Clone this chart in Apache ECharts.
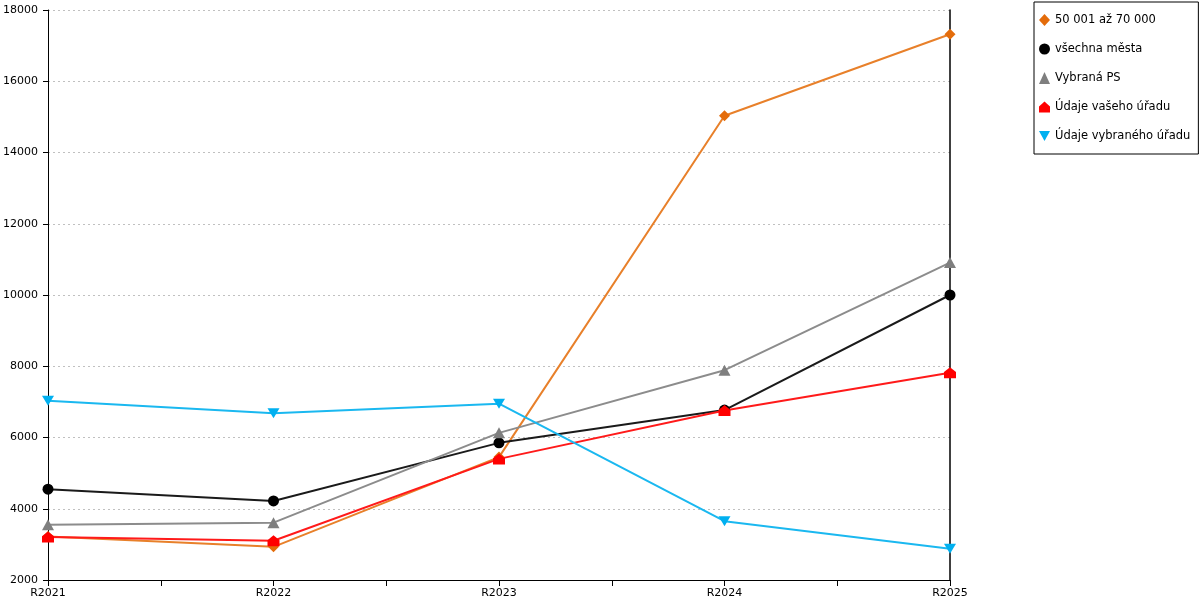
<!DOCTYPE html>
<html>
<head>
<meta charset="utf-8">
<script src="https://cdn.jsdelivr.net/npm/echarts@6/dist/echarts.min.js"></script>
<style>
    html, body { margin: 0; padding: 0; background: #fff; }
    #main { width: 1200px; height: 600px; }
</style>
</head>
<body>
<div id="main"></div>
<script>
// data
var categories = ['R2021', 'R2022', 'R2023', 'R2024', 'R2025'];
var seriesNames = ['50 001 až 70 000', 'všechna města', 'Vybraná PS', 'Údaje vašeho úřadu', 'Údaje vybraného úřadu'];
var velikost = [3220, 2930, 5450, 15030, 17320];
var vsechnaMesta = [4550, 4220, 5850, 6770, 10000];
var vybranaPS = [3550, 3610, 6130, 7890, 10910];
var vasUrad = [3210, 3100, 5400, 6760, 7820];
var vybranyUrad = [7030, 6680, 6950, 3650, 2880];
var yTicks = { min: 2000, max: 18000, step: 2000 };

var houseIcon = 'path://M5,0 L10,4.5 L10,10 L0,10 L0,4.5 Z';
var downTriangle = 'path://M0,0 L10,0 L5,9 Z';

function toPoints(vals) {
    return vals.map(function (v, i) { return [i, v]; });
}

var chart = echarts.init(document.getElementById('main'));

var styles = [
    { color: '#E46C0A', line: '#E8802A', symbol: 'diamond', size: [11, 11], data: velikost },
    { color: '#000000', line: '#1a1a1a', symbol: 'circle', size: 11, data: vsechnaMesta },
    { color: '#7F7F7F', line: '#8c8c8c', symbol: 'triangle', size: [12, 11], data: vybranaPS },
    { color: '#FF0000', line: '#FF1a1a', symbol: houseIcon, size: [12, 11], data: vasUrad },
    { color: '#00B0F0', line: '#1ab8f0', symbol: downTriangle, size: [12, 10], data: vybranyUrad }
];

var series = styles.map(function (s, i) {
    return {
        name: seriesNames[i],
        type: 'line',
        data: toPoints(s.data),
        symbol: s.symbol,
        symbolSize: s.size,
        showAllSymbol: true,
        lineStyle: { color: s.line, width: 2 },
        itemStyle: { color: s.color, opacity: 1 },
        emphasis: { disabled: true },
        animation: false
    };
});

chart.setOption({
    backgroundColor: '#fff',
    textStyle: { fontFamily: 'DejaVu Sans' },
    grid: { left: 48, right: 250, top: 10, bottom: 20 },
    legend: {
        orient: 'vertical',
        left: 1034,
        top: 2,
        padding: [12, 8, 12, 5],
        itemGap: 17,
        itemWidth: 11,
        itemHeight: 12,
        borderColor: '#000',
        borderWidth: 1,
        textStyle: { fontSize: 11.5, color: '#000', fontFamily: 'DejaVu Sans' },
        data: seriesNames.map(function (n, i) {
            return { name: n, icon: styles[i].symbol, itemStyle: { color: styles[i].color } };
        })
    },
    xAxis: {
        type: 'value',
        min: 0,
        max: categories.length - 1,
        interval: 0.5,
        axisLine: { show: true, lineStyle: { color: '#000', width: 1 } },
        axisTick: { show: true, length: 6, lineStyle: { color: '#000' } },
        splitLine: { show: false },
        axisLabel: {
            color: '#000',
            fontSize: 11,
            margin: 8,
            showMinLabel: true,
            showMaxLabel: true,
            formatter: function (v) {
                return Number.isInteger(v) ? categories[v] : '';
            }
        }
    },
    yAxis: [{
        type: 'value',
        min: yTicks.min,
        max: yTicks.max,
        interval: yTicks.step,
        axisLine: { show: true, lineStyle: { color: '#000', width: 1 } },
        axisTick: { show: true, length: 5, lineStyle: { color: '#000' } },
        axisLabel: {
            color: '#000',
            fontSize: 11,
            margin: 10,
            formatter: function (v) { return String(v); }
        },
        splitLine: { show: true, lineStyle: { color: '#c0c0c0', type: [2, 3], width: 1 } }
    }, {
        type: 'value',
        position: 'right',
        min: yTicks.min,
        max: yTicks.max,
        interval: yTicks.step,
        axisLine: { show: true, lineStyle: { color: '#000', width: 1.5 } },
        axisTick: { show: false },
        axisLabel: { show: false },
        splitLine: { show: false }
    }],
    series: series
});
</script>
</body>
</html>
